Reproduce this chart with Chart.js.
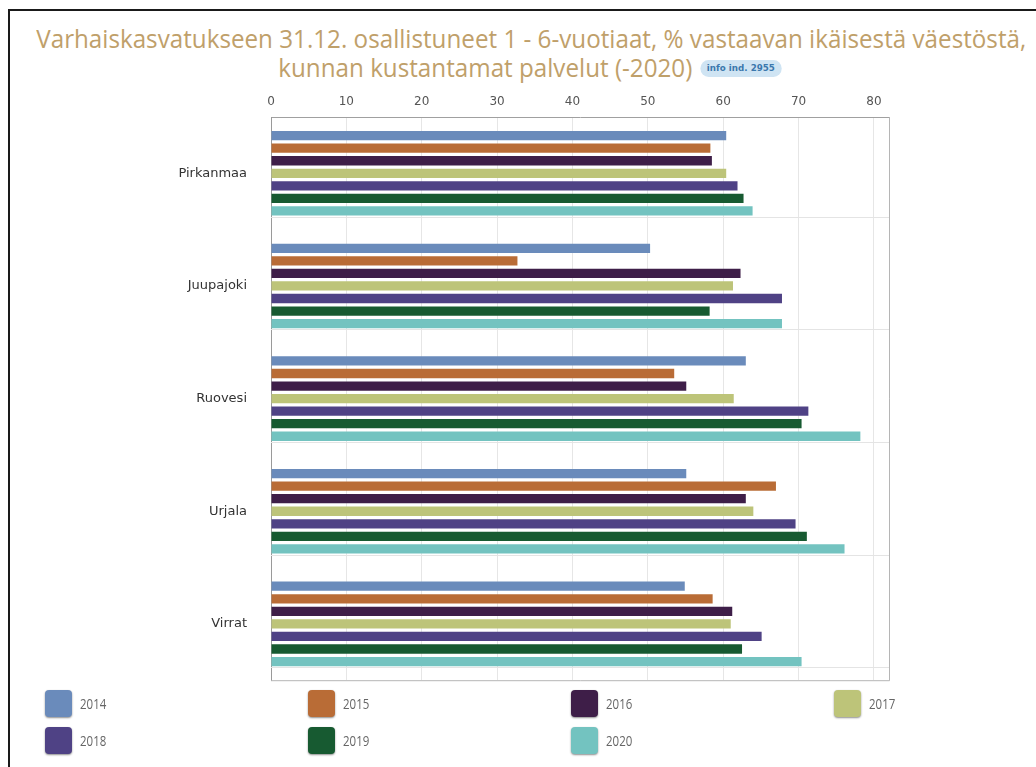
<!DOCTYPE html>
<html>
<head>
<meta charset="utf-8">
<script src="https://cdn.jsdelivr.net/npm/chart.js@4/dist/chart.umd.min.js"></script>
<style>
    html, body { margin: 0; padding: 0; background: #fff; }
    body { width: 1036px; height: 767px; position: relative; overflow: hidden; }
    .frame {
        position: absolute; left: 8px; top: 9px; width: 1040px; height: 780px;
        border-left: 2px solid #1a1a1a; border-top: 2px solid #1a1a1a;
    }
    .title {
        position: absolute; left: 20px; top: 24px; width: 1020px;
        text-align: center; color: #bfa06a;
        font-family: "Open Sans", sans-serif;
        font-size: 25px; line-height: 29px;
    }
    .title-line { display: block; white-space: nowrap; transform-origin: center; }
    .badge {
        display: inline-block; vertical-align: middle;
        background: #cfe4f3; color: #3b78ad; border-radius: 9px;
        font-family: "DejaVu Sans", sans-serif; font-weight: bold;
        font-size: 9px; line-height: 17px; padding: 0 7px; margin-left: 8px;
        position: relative; top: -2px;
    }
    .chart-wrap { position: absolute; left: 0; top: 88px; width: 1036px; height: 616px; }
    .legend {
        position: absolute; left: 45px; top: 690px;
        display: grid; grid-template-columns: repeat(4, 263px); row-gap: 10px;
    }
    .legend-item { display: flex; align-items: center; height: 27px; }
    .legend-box {
        width: 27px; height: 27px; border-radius: 4px; margin-right: 8px;
        box-shadow: 0 1px 2px rgba(0,0,0,0.45);
    }
    .legend-label {
        font-family: "Open Sans", sans-serif;
        font-size: 14px; color: #666; display: inline-block;
        transform: scaleX(0.82); transform-origin: left center;
    }
</style>
</head>
<body>
<div class="frame"></div>
<div class="title">
    <span class="title-line" id="titleLine1">Varhaiskasvatukseen 31.12. osallistuneet 1 - 6-vuotiaat, % vastaavan ikäisestä väestöstä,</span>
    <span class="title-line" id="titleLine2">kunnan kustantamat palvelut (-2020)<span class="badge">info ind. 2955</span></span>
</div>
<div class="chart-wrap"><canvas id="chart"></canvas></div>
<div class="legend" id="legend"></div>

<script>
// Data
const municipalities = ['Pirkanmaa', 'Juupajoki', 'Ruovesi', 'Urjala', 'Virrat'];
const years = ['2014', '2015', '2016', '2017', '2018', '2019', '2020'];
const yearColors = ['#6a8bbb', '#b96c36', '#3e1e48', '#bdc479', '#4f4285', '#175a31', '#73c3c0'];

const values2014 = [60.4, 50.3, 63.0, 55.1, 54.9];
const values2015 = [58.3, 32.7, 53.5, 67.0, 58.6];
const values2016 = [58.5, 62.3, 55.1, 63.0, 61.2];
const values2017 = [60.4, 61.3, 61.4, 64.0, 61.0];
const values2018 = [61.9, 67.8, 71.3, 69.6, 65.1];
const values2019 = [62.7, 58.2, 70.4, 71.1, 62.5];
const values2020 = [63.9, 67.8, 78.2, 76.1, 70.4];

const xTicks = [0, 10, 20, 30, 40, 50, 60, 70, 80];

const seriesValues = [values2014, values2015, values2016, values2017, values2018, values2019, values2020];

// The title font in the original is a condensed face; squeeze the lines to the same width
function fitTitle() {
    const line1 = document.getElementById('titleLine1');
    const line2 = document.getElementById('titleLine2');
    line1.style.display = 'inline-block';
    const natural = line1.getBoundingClientRect().width;
    const scale = 990 / natural;
    line1.style.display = 'block';
    [line1, line2].forEach(l => { l.style.transform = `scaleX(${scale})`; });
}
fitTitle();

// Frame around plot area + light separators under each group
const plotFrame = {
    id: 'plotFrame',
    beforeDatasetsDraw(chart) {
        const { ctx, chartArea, scales } = chart;
        const y = scales.y;
        const band = (y.bottom - y.top) / municipalities.length;
        ctx.save();
        ctx.strokeStyle = '#e4e4e4';
        ctx.lineWidth = 1;
        municipalities.forEach((m, i) => {
            const py = Math.round(y.getPixelForValue(i) + band * 0.385) + 0.5;
            ctx.beginPath();
            ctx.moveTo(chartArea.left, py);
            ctx.lineTo(chartArea.right, py);
            ctx.stroke();
        });
        ctx.restore();
    },
    afterDraw(chart) {
        const { ctx, chartArea } = chart;
        ctx.save();
        ctx.strokeStyle = '#b5b5b5';
        ctx.lineWidth = 1;
        ctx.beginPath();
        ctx.moveTo(chartArea.left, chartArea.bottom + 0.5);
        ctx.lineTo(chartArea.right + 0.5, chartArea.bottom + 0.5);
        ctx.lineTo(chartArea.right + 0.5, chartArea.top);
        ctx.stroke();
        ctx.restore();
    }
};

const chart = new Chart(document.getElementById('chart'), {
    type: 'bar',
    data: {
        labels: municipalities,
        datasets: years.map((year, i) => ({
            label: year,
            data: seriesValues[i],
            backgroundColor: yearColors[i],
            borderWidth: 0,
            categoryPercentage: 0.78,
            barPercentage: 0.74
        }))
    },
    options: {
        indexAxis: 'y',
        responsive: true,
        maintainAspectRatio: false,
        animation: false,
        layout: { padding: { left: 0, right: 147, top: 0, bottom: 8 } },
        plugins: {
            legend: { display: false },
            tooltip: { enabled: false }
        },
        scales: {
            x: {
                position: 'top',
                min: 0,
                max: 82,
                afterBuildTicks(axis) {
                    axis.ticks = xTicks.map(v => ({ value: v }));
                },
                afterFit(axis) { axis.height = 29; },
                grid: { color: '#e6e6e6', drawTicks: false },
                border: { color: '#a0a0a0' },
                ticks: {
                    padding: 8,
                    color: '#555',
                    font: { family: 'DejaVu Sans', size: 12 }
                }
            },
            y: {
                afterFit(axis) { axis.width = 271; },
                grid: { display: false },
                border: { color: '#9a9a9a' },
                ticks: {
                    padding: 16,
                    color: '#333',
                    font: { family: 'DejaVu Sans', size: 13 }
                }
            }
        }
    },
    plugins: [plotFrame]
});

// HTML legend built from the chart datasets
const legendEl = document.getElementById('legend');
chart.data.datasets.forEach(ds => {
    const item = document.createElement('div');
    item.className = 'legend-item';
    item.innerHTML = `<span class="legend-box" style="background:${ds.backgroundColor}"></span>` +
        `<span class="legend-label">${ds.label}</span>`;
    legendEl.appendChild(item);
});
</script>
</body>
</html>
